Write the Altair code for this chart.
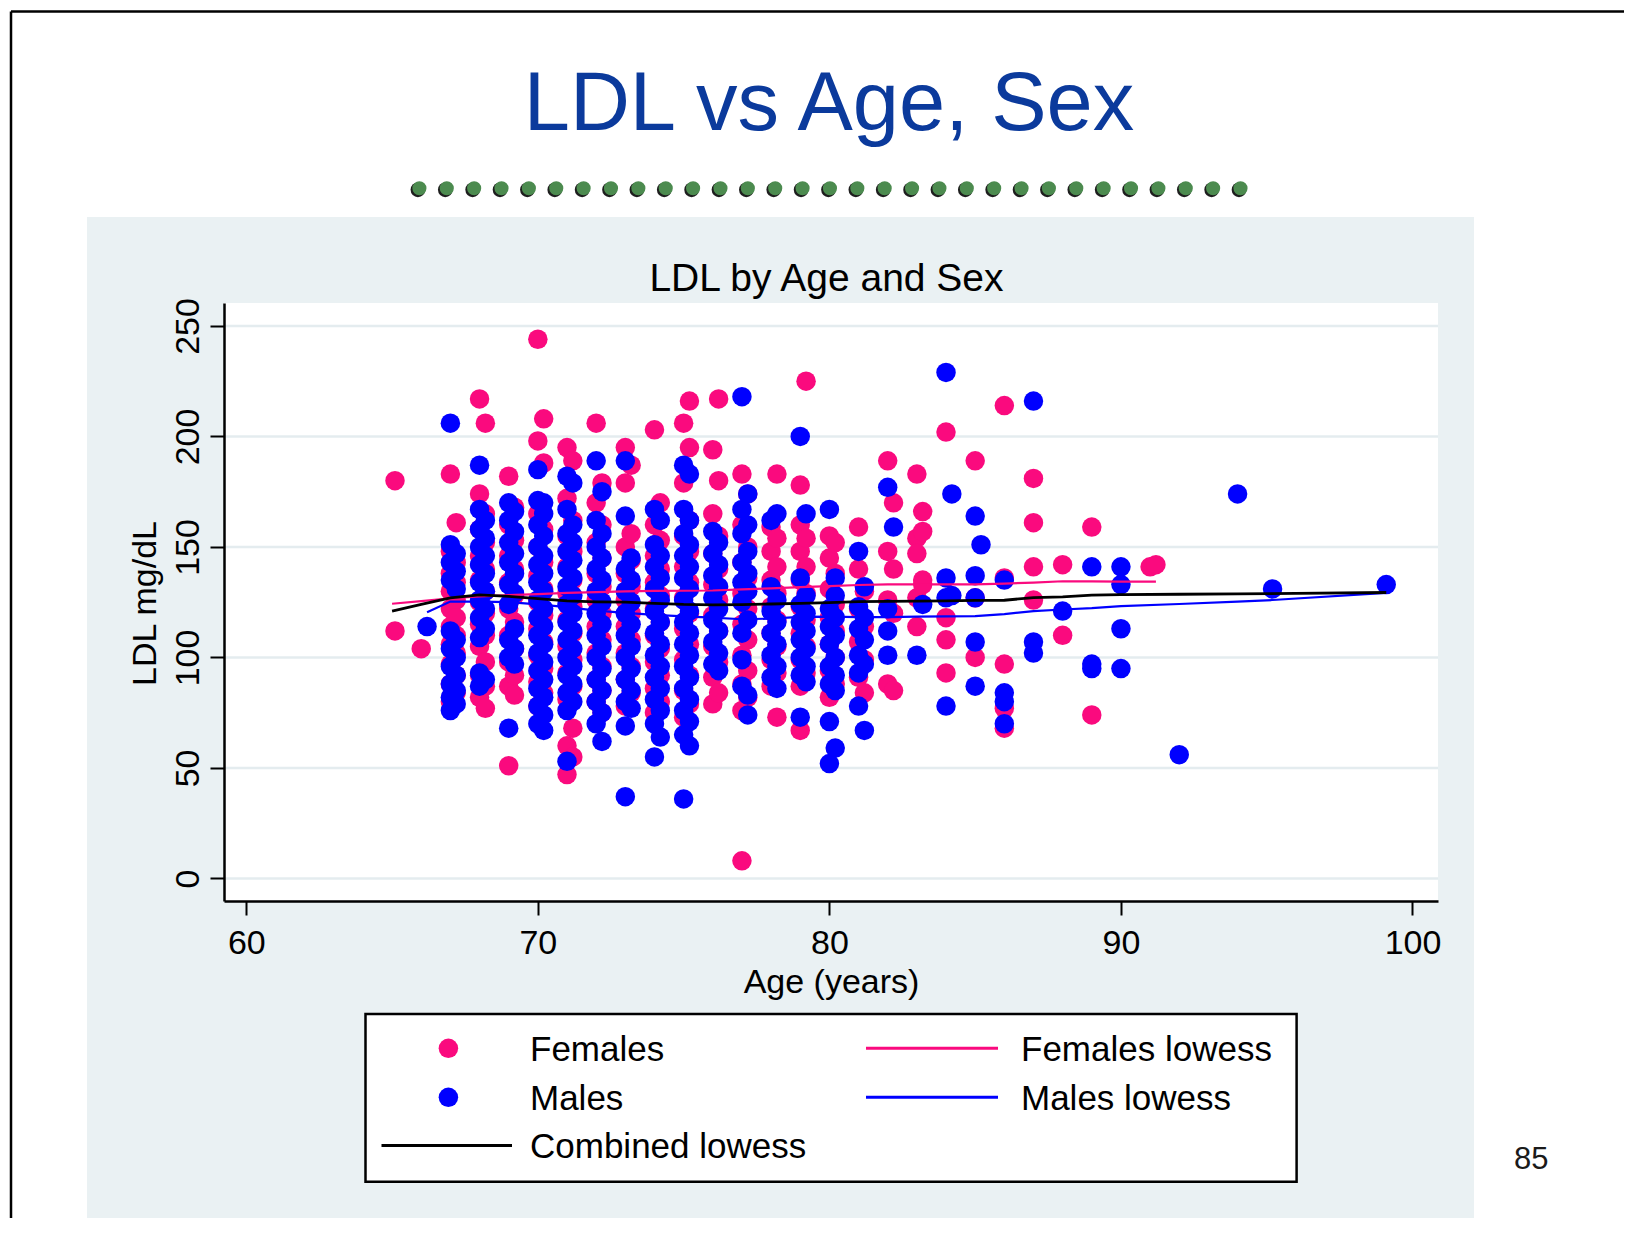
import altair as alt
import pandas as pd

FONT = "Liberation Sans"

# ---------------- text ----------------
SLIDE_TITLE = "LDL vs Age, Sex"
CHART_TITLE = "LDL by Age and Sex"
X_TITLE = "Age (years)"
Y_TITLE = "LDL mg/dL"
PAGE_NUMBER = "85"
X_TICKS = [60, 70, 80, 90, 100]
Y_TICKS = [0, 50, 100, 150, 200, 250]

# ---------------- scatter data (age, [LDL values]) ----------------
FEMALES = [
    (65.1, [180, 112]),
    (66.0, [104]),
    (67.0, [183, 148, 138, 130, 122, 114, 106, 97, 88, 80]),
    (67.2, [161, 143, 134, 126, 118, 110, 102, 92, 84]),
    (68.0, [217, 174, 158, 146, 135, 125, 115, 105, 92, 82]),
    (68.2, [206, 165, 152, 140, 130, 120, 110, 98, 87, 77]),
    (69.0, [182, 160, 146, 134, 122, 110, 98, 87, 51]),
    (69.2, [168, 153, 140, 128, 116, 104, 92, 83]),
    (70.0, [244, 198, 165, 150, 137, 125, 113, 101, 89, 78]),
    (70.2, [208, 188, 158, 143, 131, 119, 107, 95, 84]),
    (71.0, [195, 172, 155, 141, 129, 117, 105, 93, 81, 60, 47]),
    (71.2, [189, 162, 148, 135, 123, 111, 99, 87, 68, 55]),
    (72.0, [206, 170, 152, 138, 126, 114, 102, 90, 80]),
    (72.2, [179, 160, 145, 132, 120, 108, 96, 85, 75]),
    (73.0, [195, 179, 150, 138, 126, 114, 102, 90, 78]),
    (73.2, [187, 156, 144, 132, 120, 108, 96, 84]),
    (74.0, [203, 160, 146, 134, 122, 110, 98, 86, 75]),
    (74.2, [170, 153, 140, 128, 116, 104, 92, 80]),
    (75.0, [206, 179, 155, 141, 127, 113, 99, 85, 73]),
    (75.2, [216, 195, 162, 148, 134, 120, 106, 92, 79]),
    (76.0, [194, 165, 147, 133, 119, 105, 91, 79]),
    (76.2, [217, 180, 155, 140, 126, 112, 98, 84]),
    (77.0, [183, 160, 143, 129, 115, 101, 88, 76, 8]),
    (77.2, [174, 150, 136, 122, 108, 94, 82]),
    (78.0, [159, 148, 135, 123, 111, 99, 87]),
    (78.2, [183, 154, 141, 129, 117, 105, 93, 73]),
    (79.0, [178, 160, 148, 135, 123, 111, 99, 87, 67]),
    (79.2, [225, 154, 141, 129, 117, 105, 93]),
    (80.0, [155, 145, 131, 118, 106, 94, 82]),
    (80.2, [152, 138, 124, 112, 100, 88]),
    (81.0, [159, 140, 122, 107, 91]),
    (81.2, [130, 114, 99, 84]),
    (82.0, [189, 148, 126, 88]),
    (82.2, [170, 140, 120, 85]),
    (83.0, [183, 154, 147, 127, 114]),
    (83.2, [166, 157, 135, 133]),
    (84.0, [202, 118, 108, 93]),
    (85.0, [189, 127, 100]),
    (86.0, [214, 136, 97, 77, 68]),
    (87.0, [181, 161, 141, 126]),
    (88.0, [142, 110]),
    (89.0, [159, 74]),
    (91.0, [141]),
    (91.2, [142]),
]

MALES = [
    (66.2, [114]),
    (67.0, [206, 151, 143, 135, 112, 104, 96, 88, 82, 76]),
    (67.2, [147, 139, 131, 108, 100, 92, 85, 79]),
    (68.0, [187, 167, 158, 150, 142, 134, 126, 118, 109, 93, 87]),
    (68.2, [162, 154, 146, 138, 130, 122, 113, 90]),
    (69.0, [170, 162, 152, 143, 133, 124, 108, 100, 68]),
    (69.2, [166, 157, 147, 138, 129, 113, 104, 97]),
    (70.0, [185, 171, 160, 150, 142, 134, 126, 118, 110, 102, 94, 86, 78, 70]),
    (70.2, [170, 165, 155, 146, 138, 130, 122, 114, 106, 98, 90, 82, 74, 67]),
    (71.0, [182, 167, 156, 148, 140, 132, 124, 116, 108, 100, 92, 84, 76, 53]),
    (71.2, [179, 160, 152, 144, 136, 128, 120, 112, 104, 96, 88, 80]),
    (72.0, [189, 162, 150, 140, 130, 120, 110, 100, 90, 80, 70]),
    (72.2, [175, 156, 145, 135, 125, 115, 105, 95, 85, 75, 62]),
    (73.0, [189, 164, 140, 130, 120, 110, 100, 90, 80, 69, 37]),
    (73.2, [145, 135, 125, 115, 105, 95, 85, 77]),
    (74.0, [167, 151, 141, 131, 121, 111, 101, 91, 81, 70, 55]),
    (74.2, [162, 146, 136, 126, 116, 106, 96, 86, 76, 64]),
    (75.0, [187, 167, 156, 146, 136, 126, 116, 106, 96, 86, 76, 65, 36]),
    (75.2, [183, 162, 151, 141, 131, 121, 111, 101, 91, 81, 71, 60]),
    (76.0, [157, 147, 137, 127, 117, 107, 97]),
    (76.2, [152, 142, 132, 122, 112, 102, 94]),
    (77.0, [218, 167, 156, 143, 134, 125, 111, 99, 87]),
    (77.2, [174, 160, 148, 138, 130, 117, 83, 74]),
    (78.0, [162, 132, 121, 111, 101, 91]),
    (78.2, [165, 126, 116, 106, 96, 86]),
    (79.0, [200, 136, 124, 116, 108, 100, 92, 73]),
    (79.2, [165, 128, 120, 112, 104, 96, 89]),
    (80.0, [167, 122, 114, 106, 96, 88, 71, 52]),
    (80.2, [136, 128, 118, 110, 100, 92, 85, 59]),
    (81.0, [148, 123, 113, 101, 93, 78]),
    (81.2, [132, 118, 108, 97, 67]),
    (82.0, [177, 122, 112, 101]),
    (82.2, [159]),
    (83.0, [101]),
    (83.2, [124]),
    (84.0, [229, 136, 127, 78]),
    (84.2, [174, 128]),
    (85.0, [164, 137, 127, 107, 87]),
    (85.2, [151]),
    (86.0, [135, 84, 80, 70]),
    (87.0, [216, 107, 102]),
    (88.0, [121]),
    (89.0, [141, 97, 95]),
    (90.0, [141, 133, 113, 95]),
    (92.0, [56]),
    (94.0, [174]),
    (95.2, [131]),
    (99.1, [133]),
]

# ---------------- lowess curves ----------------
F_LOW_AGE = [65.0, 66, 67, 68, 69, 70, 71, 72, 73, 74, 75, 76, 77, 78, 79, 80,
             81, 82, 83, 84, 85, 86, 87, 88, 89, 90, 91.2]
F_LOW_LDL = [124.3, 125.5, 126.8, 127.6, 128.2, 128.7, 129.2, 129.6, 129.9, 130.1,
             130.2, 130.3, 130.8, 131.3, 131.8, 132.3, 132.8, 133.1, 133.1, 133.1,
             133.1, 133.4, 133.9, 134.5, 134.4, 134.3, 134.3]

M_LOW_AGE = [66.2, 67, 68, 69, 70, 71, 72, 73, 74, 75, 76, 77, 78, 79, 80, 81, 82,
             83, 84, 85, 86, 87, 88, 89, 90, 92, 94, 95.2, 99.1]
M_LOW_LDL = [120.5, 125.3, 125.3, 125.0, 124.0, 122.8, 121.2, 120.2, 119.3, 118.6,
             118.0, 117.3, 117.6, 118.4, 118.5, 118.3, 118.3, 118.5, 118.6, 118.7,
             119.6, 121.0, 121.7, 122.3, 123.2, 124.2, 125.3, 126.0, 129.2]

C_LOW_AGE = [65.0, 66, 67, 68, 69, 70, 71, 72, 73, 74, 75, 76, 77, 78, 79, 80, 81,
             82, 83, 84, 85, 86, 87, 88, 89, 90, 92, 94, 96, 99.1]
C_LOW_LDL = [121.0, 124.0, 127.0, 128.3, 127.6, 126.6, 125.6, 125.2, 125.0, 124.5,
             124.0, 123.8, 123.9, 124.2, 124.5, 124.8, 125.3, 125.4, 125.5, 125.6,
             125.8, 125.9, 127.1, 127.4, 128.2, 128.4, 128.6, 128.8, 129.0, 129.4]

LEGEND_LEFT = ["Females", "Males", "Combined lowess"]
LEGEND_RIGHT = ["Females lowess", "Males lowess"]
DOT_COUNT = 31

# ---------------- colours ----------------
PINK = "#FA0A7E"
BLUE = "#0000FF"
BLACK = "#000000"
PANEL = "#EAF1F3"
GRID = "#E4ECEF"
TITLE_BLUE = "#0B3A9C"
DOT_GREEN = "#4C8B4F"

# ---------------- layout (pixels relative to the plot area) ----------------
W, H = 1214, 598
POINT_SIZE = 380
x_scale = alt.Scale(domain=[59.235, 100.875], nice=False, zero=False)
y_scale = alt.Scale(domain=[-10.2, 260.4], nice=False, zero=False)

rows = []
for age, vals in FEMALES:
    for v in vals:
        rows.append({"age": age, "ldl": v, "sex": "Females"})
for age, vals in MALES:
    for v in vals:
        rows.append({"age": age, "ldl": v, "sex": "Males"})
pts_df = pd.DataFrame(rows)

x_axis = alt.Axis(
    values=X_TICKS, title=X_TITLE, grid=False, zindex=1,
    domainColor=BLACK, domainWidth=2.5, tickColor=BLACK, tickWidth=2, tickSize=14,
    labelFont=FONT, labelFontSize=34, labelColor=BLACK, labelPadding=38,
    labelBaseline="alphabetic", labelFlush=False, labelOverlap=False,
    titleFont=FONT, titleFontSize=34, titleFontWeight="normal", titleColor=BLACK,
    titleX=607, titleY=91, titleAlign="center", titleBaseline="alphabetic",
)
y_axis = alt.Axis(
    values=Y_TICKS, title=Y_TITLE, grid=False, zindex=1,
    domainColor=BLACK, domainWidth=2.5, tickColor=BLACK, tickWidth=2, tickSize=14,
    labelFont=FONT, labelFontSize=34, labelColor=BLACK, labelPadding=12,
    labelAngle=270, labelAlign="center", labelBaseline="alphabetic",
    labelFlush=False, labelOverlap=False,
    titleFont=FONT, titleFontSize=34, titleFontWeight="normal", titleColor=BLACK,
    titleAngle=270, titleX=-68.5, titleY=300, titleAlign="center",
    titleBaseline="alphabetic",
)

ONE = pd.DataFrame({"k": [0]})


def rect(x, x2, y, y2, **kw):
    return alt.Chart(ONE).mark_rect(**kw).encode(
        x=alt.value(x), x2=alt.value(x2), y=alt.value(y), y2=alt.value(y2))


def label(text, x, y, **kw):
    return alt.Chart(pd.DataFrame({"t": [text]})).mark_text(
        font=FONT, baseline="alphabetic", **kw).encode(
        x=alt.value(x), y=alt.value(y), text="t:N")


panel = rect(-137, 1250, -86, 925, color=PANEL)
white = rect(0, W, 0, H, color="white")

grid = alt.Chart(pd.DataFrame({"v": Y_TICKS})).mark_rule(
    color=GRID, strokeWidth=2.5).encode(
    y=alt.Y("v:Q", scale=y_scale, axis=y_axis), x=alt.value(0), x2=alt.value(W))

points = alt.Chart(pts_df).mark_circle(size=POINT_SIZE, opacity=1).encode(
    x=alt.X("age:Q", scale=x_scale, axis=x_axis),
    y=alt.Y("ldl:Q", scale=y_scale, axis=y_axis),
    color=alt.Color("sex:N", scale=alt.Scale(domain=["Females", "Males"],
                                             range=[PINK, BLUE]), legend=None),
)


def lowess(ages, vals, color, width):
    df = pd.DataFrame({"age": ages, "ldl": vals})
    return alt.Chart(df).mark_line(color=color, strokeWidth=width).encode(
        x=alt.X("age:Q", scale=x_scale, axis=x_axis),
        y=alt.Y("ldl:Q", scale=y_scale, axis=y_axis))


f_line = lowess(F_LOW_AGE, F_LOW_LDL, PINK, 2.2)
m_line = lowess(M_LOW_AGE, M_LOW_LDL, BLUE, 2.2)
c_line = lowess(C_LOW_AGE, C_LOW_LDL, BLACK, 2.8)

slide_title = label(SLIDE_TITLE, 605, -173.5, fontSize=83, color=TITLE_BLUE, align="center")
chart_title = label(CHART_TITLE, 602.5, -12.3, fontSize=39, color=BLACK, align="center")
page_no = label(PAGE_NUMBER, 1290, 866, fontSize=31, color="#1A1A1A", align="left")

# decorative dotted rule under the slide title
dots_df = pd.DataFrame({"i": list(range(DOT_COUNT))})
dots_df["px"] = 195.4 + dots_df["i"] * 27.37
dots_df["sx"] = dots_df["px"] - 1.5
shadow = alt.Chart(dots_df).mark_circle(size=215, opacity=1, color="#1E1E1E").encode(
    x=alt.X("sx:Q", scale=None), y=alt.value(-113.2))
dots = alt.Chart(dots_df).mark_circle(size=200, opacity=1, color=DOT_GREEN).encode(
    x=alt.X("px:Q", scale=None), y=alt.value(-114.7))

# legend
legend_box = rect(141.5, 1072.6, 711, 878.7, fill="white", stroke=BLACK, strokeWidth=2.5)
ROW_Y = [745.3, 794.3, 842.5]
sym_df = pd.DataFrame({"px": [224.4, 224.4], "py": ROW_Y[:2], "c": [PINK, BLUE]})
leg_syms = alt.Chart(sym_df).mark_circle(size=POINT_SIZE, opacity=1).encode(
    x=alt.X("px:Q", scale=None), y=alt.Y("py:Q", scale=None),
    color=alt.Color("c:N", scale=None))
line_df = pd.DataFrame({"x1": [642, 642, 157.5], "x2": [774, 774, 288],
                        "py": [ROW_Y[0], ROW_Y[1], ROW_Y[2]], "c": [PINK, BLUE, BLACK]})
leg_lines = alt.Chart(line_df).mark_rule(strokeWidth=3).encode(
    x=alt.X("x1:Q", scale=None), x2="x2:Q", y=alt.Y("py:Q", scale=None),
    color=alt.Color("c:N", scale=None))
text_df = pd.DataFrame({
    "t": LEGEND_LEFT + LEGEND_RIGHT,
    "px": [306, 306, 306, 797, 797],
    "py": [y + 12.4 for y in ROW_Y] + [ROW_Y[0] + 12.4, ROW_Y[1] + 12.4],
})
leg_text = alt.Chart(text_df).mark_text(
    font=FONT, fontSize=35, align="left", baseline="alphabetic", color=BLACK).encode(
    x=alt.X("px:Q", scale=None), y=alt.Y("py:Q", scale=None), text="t:N")

# slide border (top and left)
border_top = alt.Chart(ONE).mark_rule(color=BLACK, strokeWidth=2.5).encode(
    x=alt.value(-213), x2=alt.value(1400), y=alt.value(-291.5))
border_left = alt.Chart(ONE).mark_rule(color=BLACK, strokeWidth=2.5).encode(
    x=alt.value(-213), y=alt.value(-291.5), y2=alt.value(915))

chart = alt.layer(
    panel, white, grid, points, f_line, m_line, c_line,
    slide_title, chart_title, shadow, dots,
    legend_box, leg_lines, leg_syms, leg_text,
    border_top, border_left, page_no,
).properties(
    width=W, height=H,
    autosize=alt.AutoSizeParams(type="none"),
    padding={"left": 216, "top": 295, "right": 186, "bottom": 317},
    background="white",
).configure_view(strokeWidth=0)

chart.save("out.html", embed_options={"renderer": "svg", "actions": False})
